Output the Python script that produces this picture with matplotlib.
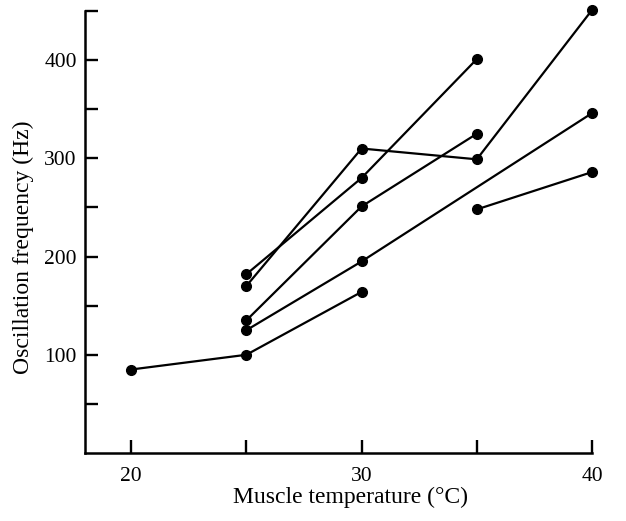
import matplotlib
matplotlib.use("Agg")
import matplotlib.pyplot as plt

plt.rcParams['font.family'] = ['Liberation Serif', 'DejaVu Serif']

# each run: temperatures (C) and oscillation frequencies (Hz)
t1 = [20, 25, 30]
f1 = [85, 100, 164]
t2 = [25, 30, 40]
f2 = [125, 195, 346]
t3 = [25, 30, 35]
f3 = [135, 251, 325]
t4 = [25, 30, 35, 40]
f4 = [170, 310, 299, 451]
t5 = [25, 30, 35]
f5 = [182, 280, 401]
t6 = [35, 40]
f6 = [248, 286]

runs = [(t1, f1), (t2, f2), (t3, f3), (t4, f4), (t5, f5), (t6, f6)]

fig = plt.figure(figsize=(6.26, 5.21), dpi=100)
ax = fig.add_axes([0.1358, 0.1305, 0.8099, 0.8484])

for t, f in runs:
    ax.plot(t, f, '-o', color='black', lw=1.6, ms=7, clip_on=False, zorder=3)

ax.set_xlim(18, 40)
ax.set_ylim(0, 450)
ax.spines['top'].set_visible(False)
ax.spines['right'].set_visible(False)
ax.spines['left'].set_linewidth(1.8)
ax.spines['bottom'].set_linewidth(1.8)

ax.set_xticks([20, 30, 40])
ax.set_xticks([25, 35], minor=True)
ax.set_yticks([100, 200, 300, 400])
ax.set_yticks([50, 150, 250, 350, 450], minor=True)
ax.tick_params(which='both', direction='in', length=9.5, width=1.7, labelsize=15.5)
ax.tick_params(axis='x', which='both', pad=10)
ax.tick_params(axis='y', which='both', pad=6)

ax.set_xlabel('Muscle temperature (°C)', fontsize=17)
ax.xaxis.set_label_coords(0.523, -0.077)
ax.set_ylabel('Oscillation frequency (Hz)', fontsize=17)
ax.yaxis.set_label_coords(-0.10, 0.465)

fig.savefig('out.png', dpi=100)
